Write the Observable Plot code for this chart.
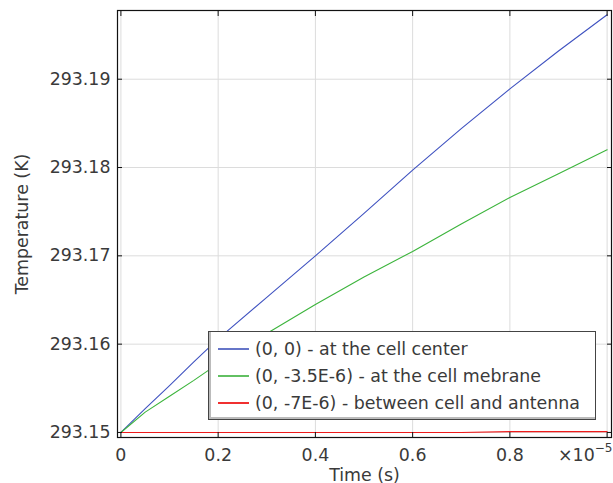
<!DOCTYPE html>
<html>
<head>
<meta charset="utf-8">
<script src="https://cdn.jsdelivr.net/npm/d3@7"></script>
<script src="https://cdn.jsdelivr.net/npm/@observablehq/plot@0.6"></script>
<style>
  html, body { margin: 0; padding: 0; background: #fff; }
  #wrap { position: relative; width: 613px; height: 483px; font-family: "DejaVu Sans", sans-serif; color: #3a3a3a; }
  #legend { position: absolute; left: 208px; top: 331px; width: 388px; height: 89px; box-sizing: border-box;
    background: #fff; border: 1.5px solid #444; box-shadow: inset 2px -2px 0 #bbb; font-size: 17.4px; color: #3a3a3a; }
  .row { position: absolute; left: 9px; height: 20px; display: flex; align-items: center; white-space: nowrap; }
  .sw { width: 31px; height: 2px; margin-right: 6px; }
  #mult { position: absolute; left: 558px; top: 443px; font-size: 17.4px; color: #3a3a3a; white-space: nowrap; }
  #mult sup { font-size: 12px; position: relative; top: -2px; }
</style>
</head>
<body>
<div id="wrap"></div>
<script>
// Data (time in units of 1e-5 s, temperature in K)
const time = [0, 0.05, 0.1, 0.15, 0.2, 0.3, 0.4, 0.5, 0.6, 0.7, 0.8, 0.9, 1.0];
const tempCenter = [293.15, 293.1527, 293.1553, 293.1580, 293.1606, 293.1653, 293.1700, 293.1748, 293.1797, 293.1844, 293.1889, 293.1932, 293.1973];
const tempMembrane = [293.15, 293.1523, 293.1541, 293.1559, 293.1578, 293.1612, 293.1645, 293.1676, 293.1705, 293.1736, 293.1766, 293.1793, 293.1820];
const tempBetween = [293.15, 293.15, 293.15, 293.15, 293.15, 293.15, 293.15, 293.15, 293.15, 293.15, 293.1501, 293.1501, 293.1501];
const seriesNames = ["(0, 0) - at the cell center", "(0, -3.5E-6) - at the cell mebrane", "(0, -7E-6) - between cell and antenna"];
const seriesColors = ["#3f52c0", "#3cb43c", "#ee1c1c"];
const swatchColors = ["#6675c8", "#62c062", "#f03030"];
const xTicks = [0, 0.2, 0.4, 0.6, 0.8, 1.0];
const xTickLabels = ["0", "0.2", "0.4", "0.6", "0.8", ""];
const yTicks = [293.15, 293.16, 293.17, 293.18, 293.19];
const yTickLabels = ["293.15", "293.16", "293.17", "293.18", "293.19"];
const xLabel = "Time (s)";
const yLabel = "Temperature (K)";
const multiplier = ["×10", "−5"];

const allSeries = [tempCenter, tempMembrane, tempBetween];
const rows = [];
allSeries.forEach((vals, s) => vals.forEach((v, i) => rows.push({t: time[i], T: v, s: seriesNames[s]})));

const xFmt = d => xTickLabels[xTicks.indexOf(d)];
const yFmt = d => yTickLabels[yTicks.indexOf(d)];

const chart = Plot.plot({
  width: 613,
  height: 483,
  marginLeft: 117,
  marginRight: 2,
  marginTop: 10,
  marginBottom: 46,
  style: {fontFamily: "DejaVu Sans, sans-serif", fontSize: "17.4px", color: "#3a3a3a", background: "#fff"},
  x: {domain: [-0.007, 1.009]},
  y: {domain: [293.14943, 293.19778]},
  color: {domain: seriesNames, range: seriesColors},
  marks: [
    Plot.gridX(xTicks, {stroke: "#dcdcdc", strokeOpacity: 1, strokeWidth: 1}),
    Plot.gridY(yTicks, {stroke: "#dcdcdc", strokeOpacity: 1, strokeWidth: 1}),
    Plot.line(rows, {x: "t", y: "T", z: "s", stroke: "s", strokeWidth: 1.1}),
    Plot.axisX(xTicks, {anchor: "bottom", tickSize: -5, tickPadding: 16, tickFormat: xFmt, stroke: "#111", fill: "#3a3a3a",
      label: xLabel, labelAnchor: "center", labelOffset: 43, labelArrow: "none"}),
    Plot.axisX(xTicks, {anchor: "top", tickSize: -5, tickFormat: () => "", stroke: "#111", label: null}),
    Plot.axisY(yTicks, {anchor: "left", tickSize: -5, tickPadding: 12, tickFormat: yFmt, stroke: "#111", fill: "#3a3a3a",
      label: yLabel, labelAnchor: "center", labelOffset: 102, labelArrow: "none"}),
    Plot.axisY(yTicks, {anchor: "right", tickSize: -5, tickFormat: () => "", stroke: "#111", label: null}),
    Plot.frame({stroke: "#111", strokeWidth: 1.2})
  ]
});

const wrap = document.getElementById("wrap");
wrap.appendChild(chart);

const legend = document.createElement("div");
legend.id = "legend";
const rowTops = [7, 34, 61];
seriesNames.forEach((name, i) => {
  const r = document.createElement("div");
  r.className = "row";
  r.style.top = rowTops[i] + "px";
  const sw = document.createElement("div");
  sw.className = "sw";
  sw.style.background = swatchColors[i];
  const tx = document.createElement("span");
  tx.textContent = name;
  r.appendChild(sw); r.appendChild(tx);
  legend.appendChild(r);
});
wrap.appendChild(legend);

const mult = document.createElement("div");
mult.id = "mult";
mult.innerHTML = multiplier[0] + "<sup>" + multiplier[1] + "</sup>";
wrap.appendChild(mult);
</script>
</body>
</html>
